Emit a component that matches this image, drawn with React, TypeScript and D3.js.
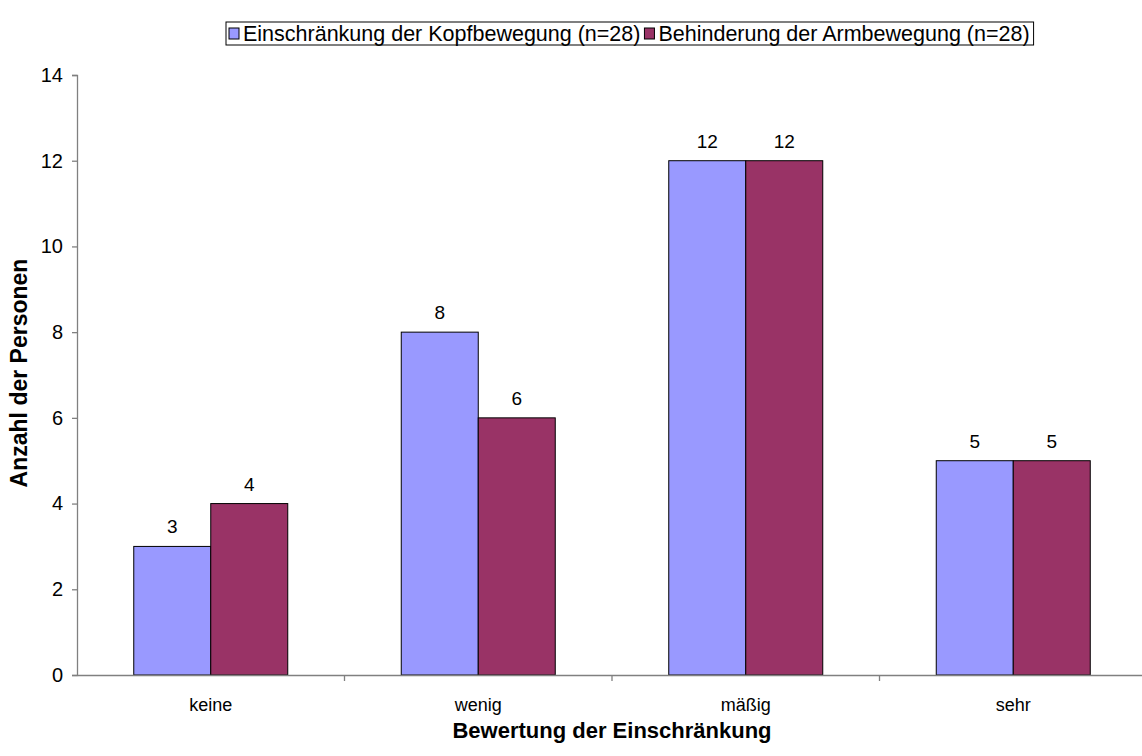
import React, { useEffect, useRef } from "react";
import * as d3 from "d3";

const categories = ["keine", "wenig", "mäßig", "sehr"];
const seriesNames = [
  "Einschränkung der Kopfbewegung (n=28)",
  "Behinderung der Armbewegung (n=28)",
];
const kopfValues = [3, 8, 12, 5];
const armValues = [4, 6, 12, 5];
const seriesColors = ["#9999FF", "#993366"];
const yTicks = [0, 2, 4, 6, 8, 10, 12, 14];

const W = 1142;
const H = 756;
const FONT = "'Liberation Sans', Arial, sans-serif";

export default function App() {
  const ref = useRef<SVGSVGElement | null>(null);

  useEffect(() => {
    const svg = d3.select(ref.current);
    svg.selectAll("*").remove();

    const left = 77;
    const top = 75;
    const bottom = 675;
    const right = 1147;

    const x = d3.scaleBand<string>().domain(categories).range([left, right]).padding(0);
    const y = d3.scaleLinear().domain([0, 14]).range([bottom, top]);
    const barW = 77;
    const series = [kopfValues, armValues];

    // bars
    series.forEach((vals, si) => {
      svg
        .append("g")
        .selectAll("rect")
        .data(vals)
        .join("rect")
        .attr("x", (_, i) => x(categories[i])! + x.bandwidth() / 2 - barW + si * barW)
        .attr("y", (d) => y(d))
        .attr("width", barW)
        .attr("height", (d) => y(0) - y(d))
        .attr("fill", seriesColors[si])
        .attr("stroke", "#000")
        .attr("stroke-width", 1);

      svg
        .append("g")
        .selectAll("text")
        .data(vals)
        .join("text")
        .attr("x", (_, i) => x(categories[i])! + x.bandwidth() / 2 - barW / 2 + si * barW)
        .attr("y", (d) => y(d) - 13)
        .attr("text-anchor", "middle")
        .attr("font-family", FONT)
        .attr("font-size", 19)
        .attr("fill", "#000")
        .text((d) => String(d));
    });

    // y axis
    const yAxis = svg.append("g").attr("transform", `translate(${left},0)`).call(
      d3.axisLeft(y).tickValues(yTicks).tickSize(5).tickPadding(9).tickFormat(d3.format("d"))
    );
    yAxis.select(".domain").attr("stroke", "#808080").attr("stroke-width", 1.3);
    yAxis.selectAll(".tick line").attr("stroke", "#808080").attr("stroke-width", 1.3);
    yAxis
      .selectAll(".tick text")
      .attr("font-family", FONT)
      .attr("font-size", 20)
      .attr("fill", "#000");

    // x axis
    const xAxis = svg
      .append("g")
      .attr("transform", `translate(0,${bottom})`)
      .call(d3.axisBottom(x).tickSize(0).tickPadding(23).tickSizeOuter(0));
    xAxis.select(".domain").attr("stroke", "#808080").attr("stroke-width", 1.3);
    xAxis
      .selectAll(".tick text")
      .attr("font-family", FONT)
      .attr("font-size", 18)
      .attr("fill", "#000");
    // boundary ticks between categories
    svg
      .append("g")
      .selectAll("line")
      .data(categories.slice(1))
      .join("line")
      .attr("x1", (c) => x(c)!)
      .attr("x2", (c) => x(c)!)
      .attr("y1", bottom)
      .attr("y2", bottom + 6)
      .attr("stroke", "#808080")
      .attr("stroke-width", 1.3);

    // axis titles
    svg
      .append("text")
      .attr("x", (left + right) / 2)
      .attr("y", 738)
      .attr("text-anchor", "middle")
      .attr("font-family", FONT)
      .attr("font-weight", "bold")
      .attr("font-size", 22)
      .text("Bewertung der Einschränkung");
    svg
      .append("text")
      .attr("transform", `translate(27,${(top + bottom) / 2 - 2}) rotate(-90)`)
      .attr("text-anchor", "middle")
      .attr("font-family", FONT)
      .attr("font-weight", "bold")
      .attr("font-size", 23)
      .text("Anzahl der Personen");

    // legend
    const lg = svg.append("g");
    const box = lg.append("rect").attr("fill", "#fff").attr("stroke", "#000").attr("stroke-width", 1);
    let cx = 229;
    seriesNames.forEach((name, i) => {
      lg.append("rect")
        .attr("x", cx)
        .attr("y", 28)
        .attr("width", 10)
        .attr("height", 11)
        .attr("fill", seriesColors[i])
        .attr("stroke", "#000")
        .attr("stroke-width", 1);
      const t = lg
        .append("text")
        .attr("x", cx + 14)
        .attr("y", 41)
        .attr("font-family", FONT)
        .attr("font-size", 21.5)
        .text(name);
      const w = (t.node() as SVGTextElement).getComputedTextLength();
      cx = cx + 14 + w + 4;
    });
    box.attr("x", 226).attr("y", 22).attr("width", cx - 226).attr("height", 23);
  }, []);

  return (
    <svg
      ref={ref}
      width={W}
      height={H}
      style={{ position: "absolute", left: 0, top: 0, background: "#fff" }}
    />
  );
}
